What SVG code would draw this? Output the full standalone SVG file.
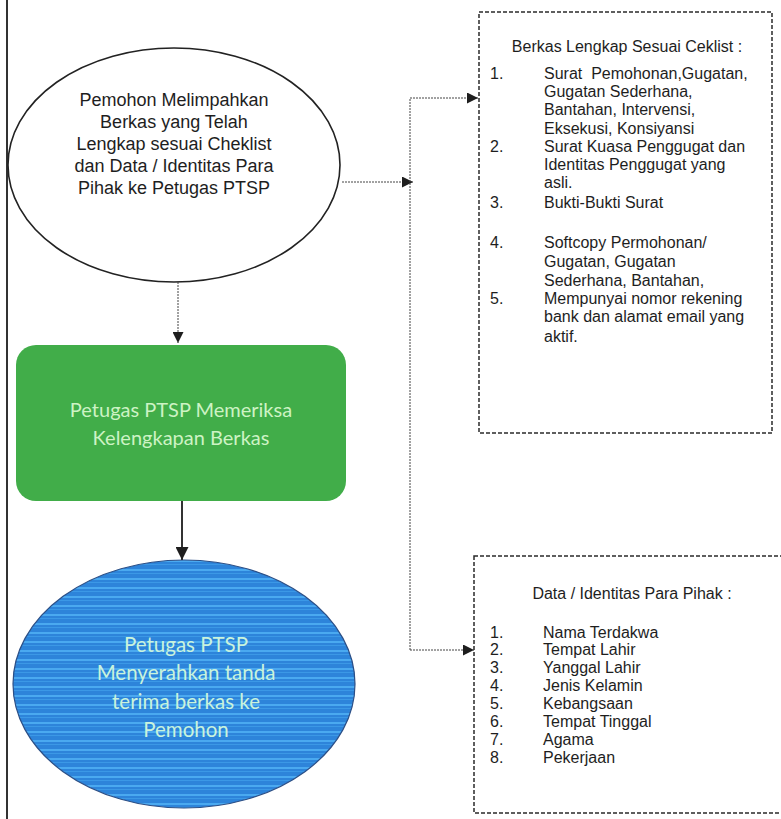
<svg xmlns="http://www.w3.org/2000/svg" width="781" height="819" viewBox="0 0 781 819">
<style>
.t{font-family:"Liberation Sans",Arial,sans-serif;fill:#1e1e1e}
.b{font-size:16px}
.e{font-size:18px;text-anchor:middle}
.c{font-family:Lato,"Open Sans",sans-serif;text-anchor:middle}
.dash{fill:none;stroke:#2a2a2a;stroke-width:1.5;stroke-dasharray:4 2}
.dot{fill:none;stroke:#444;stroke-width:1;stroke-dasharray:2 1}
</style>
<defs>
<marker id="ah" viewBox="0 0 10 10" refX="10" refY="5" markerWidth="11" markerHeight="11" markerUnits="userSpaceOnUse" orient="auto">
<path d="M0,0 L10,5 L0,10 z" fill="#1e1e1e"/>
</marker>
<marker id="ah2" viewBox="0 0 10 10" refX="10" refY="5" markerWidth="13" markerHeight="13" markerUnits="userSpaceOnUse" orient="auto">
<path d="M0,0 L10,5 L0,10 z" fill="#1e1e1e"/>
</marker>
<pattern id="stripes" patternUnits="userSpaceOnUse" width="20" height="9">
<rect width="20" height="9" fill="#2d84da"/>
<rect y="2" width="20" height="2" fill="#4aa9f0"/>
<rect y="6" width="20" height="1" fill="#3b98e6"/>
</pattern>
</defs>
<rect width="781" height="819" fill="#ffffff"/>
<line x1="7" y1="0" x2="7" y2="819" stroke="#333" stroke-width="2"/>

<g id="node-pemohon">
<ellipse cx="174" cy="165" rx="166" ry="117" fill="#fff" stroke="#222" stroke-width="1.6"/>
<text class="t e" x="174" y="106">Pemohon Melimpahkan</text>
<text class="t e" x="174" y="128">Berkas yang Telah</text>
<text class="t e" x="174" y="150">Lengkap sesuai Cheklist</text>
<text class="t e" x="174" y="172">dan Data / Identitas Para</text>
<text class="t e" x="174" y="194">Pihak ke Petugas PTSP</text>
</g>

<g id="node-periksa">
<rect x="16" y="345" width="330" height="156" rx="20" fill="#41ad49"/>
<text class="c" x="181" y="417" font-size="20" fill="#cdf3c4">Petugas PTSP Memeriksa</text>
<text class="c" x="181" y="445" font-size="20" fill="#cdf3c4">Kelengkapan Berkas</text>
</g>

<g id="node-tanda-terima">
<ellipse cx="184" cy="684" rx="171" ry="124" fill="url(#stripes)" stroke="#2c4f86" stroke-width="1.2"/>
<text class="c" x="186" y="652" font-size="20.5" fill="#c9f3dc">Petugas PTSP</text>
<text class="c" x="186" y="680" font-size="20.5" fill="#c9f3dc">Menyerahkan tanda</text>
<text class="c" x="186" y="709" font-size="20.5" fill="#c9f3dc">terima berkas ke</text>
<text class="c" x="186" y="737" font-size="20.5" fill="#c9f3dc">Pemohon</text>
</g>

<g id="node-berkas">
<rect class="dash" x="479" y="12" width="293" height="421"/>
<text class="t b" x="627" y="52" text-anchor="middle">Berkas Lengkap Sesuai Ceklist :</text>
<text class="t b" x="490" y="79">1.</text>
<text class="t b" x="544" y="79" style="white-space:pre">Surat  Pemohonan,Gugatan,</text>
<text class="t b" x="544" y="97">Gugatan Sederhana,</text>
<text class="t b" x="544" y="115">Bantahan, Intervensi,</text>
<text class="t b" x="544" y="134">Eksekusi, Konsiyansi</text>
<text class="t b" x="490" y="152">2.</text>
<text class="t b" x="544" y="152">Surat Kuasa Penggugat dan</text>
<text class="t b" x="544" y="170">Identitas Penggugat yang</text>
<text class="t b" x="544" y="188">asli.</text>
<text class="t b" x="490" y="208">3.</text>
<text class="t b" x="544" y="208">Bukti-Bukti Surat</text>
<text class="t b" x="490" y="248">4.</text>
<text class="t b" x="544" y="248">Softcopy Permohonan/</text>
<text class="t b" x="544" y="267">Gugatan, Gugatan</text>
<text class="t b" x="544" y="286">Sederhana, Bantahan,</text>
<text class="t b" x="490" y="304">5.</text>
<text class="t b" x="544" y="304">Mempunyai nomor rekening</text>
<text class="t b" x="544" y="322">bank dan alamat email yang</text>
<text class="t b" x="544" y="342">aktif.</text>
</g>

<g id="node-identitas">
<rect class="dash" x="474" y="556" width="312" height="257"/>
<text class="t b" x="632" y="599" text-anchor="middle">Data / Identitas Para Pihak :</text>
<text class="t b" x="490" y="638">1.</text>
<text class="t b" x="543" y="638">Nama Terdakwa</text>
<text class="t b" x="490" y="655">2.</text>
<text class="t b" x="543" y="655">Tempat Lahir</text>
<text class="t b" x="490" y="673">3.</text>
<text class="t b" x="543" y="673">Yanggal Lahir</text>
<text class="t b" x="490" y="691">4.</text>
<text class="t b" x="543" y="691">Jenis Kelamin</text>
<text class="t b" x="490" y="709">5.</text>
<text class="t b" x="543" y="709">Kebangsaan</text>
<text class="t b" x="490" y="727">6.</text>
<text class="t b" x="543" y="727">Tempat Tinggal</text>
<text class="t b" x="490" y="745">7.</text>
<text class="t b" x="543" y="745">Agama</text>
<text class="t b" x="490" y="763">8.</text>
<text class="t b" x="543" y="763">Pekerjaan</text>
</g>

<g id="connectors">
<line class="dot" x1="342" y1="182" x2="413" y2="182" marker-end="url(#ah)"/>
<polyline class="dot" points="410,650 410,98 478,98" marker-end="url(#ah)"/>
<line class="dot" x1="410" y1="650" x2="474" y2="650" marker-end="url(#ah)"/>
<line class="dot" x1="178" y1="282" x2="178" y2="343" marker-end="url(#ah)"/>
<line x1="182" y1="501" x2="182" y2="560" stroke="#333" stroke-width="2" marker-end="url(#ah2)"/>
</g>
</svg>
